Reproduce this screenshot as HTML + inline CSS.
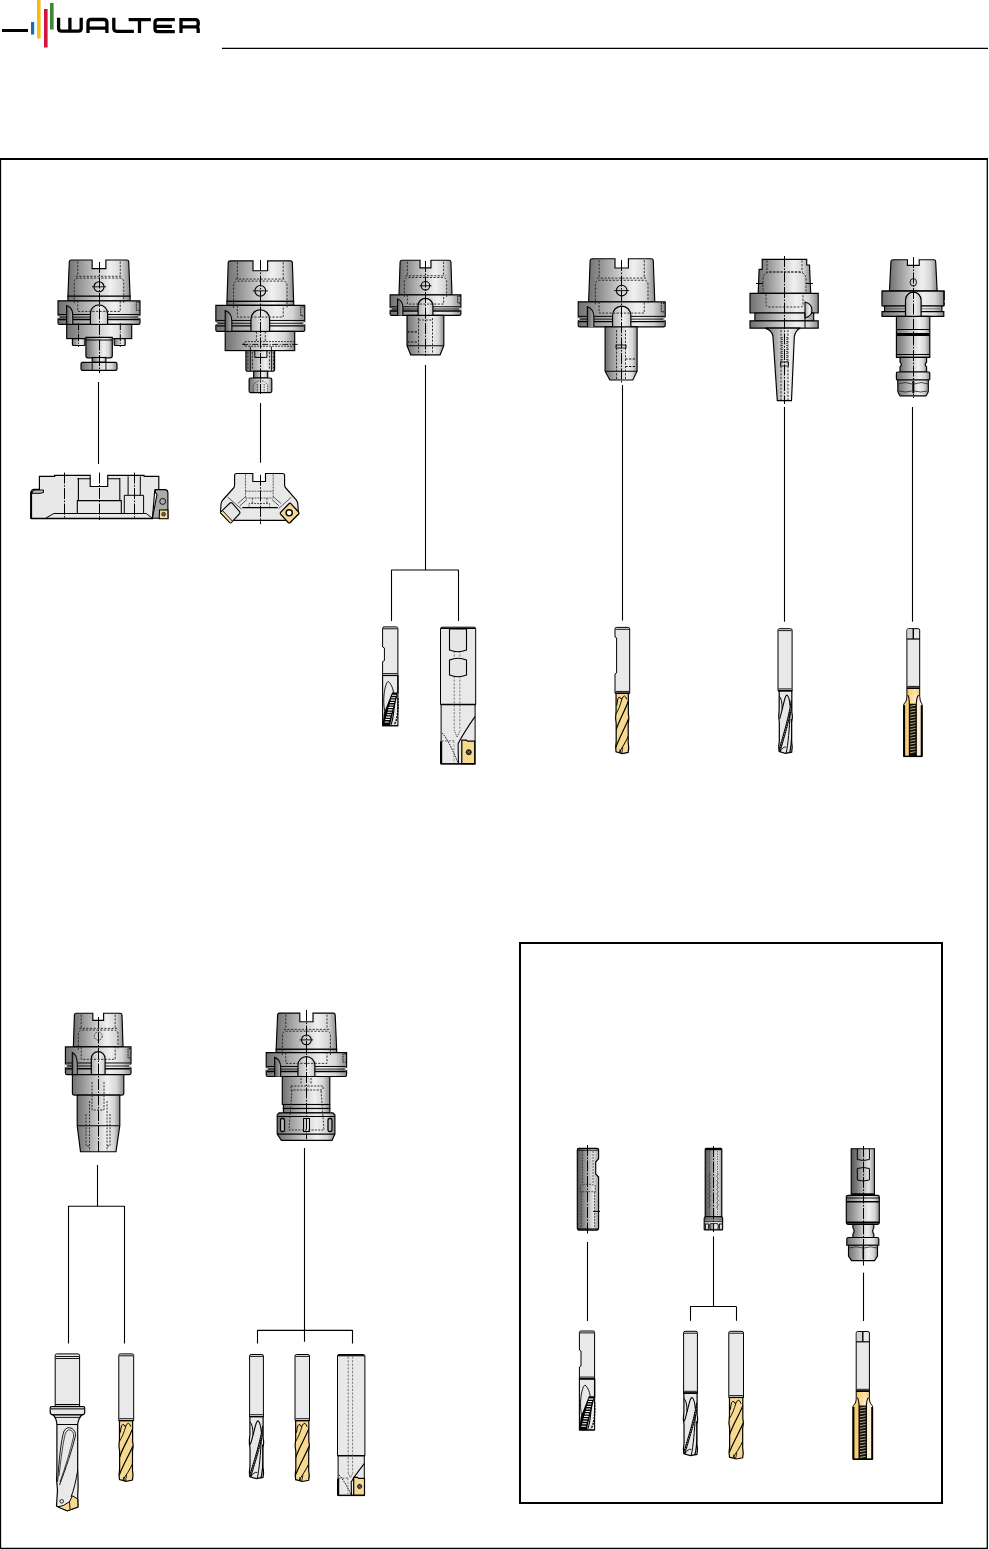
<!DOCTYPE html>
<html><head><meta charset="utf-8"><style>html,body{margin:0;padding:0;background:#fff;}svg{display:block;}</style></head><body><svg width="989" height="1549" viewBox="0 0 989 1549">
<defs>
<linearGradient id="met" x1="0" y1="0" x2="1" y2="0">
 <stop offset="0" stop-color="#717171"/>
 <stop offset="0.18" stop-color="#939393"/>
 <stop offset="0.45" stop-color="#c8c8c8"/>
 <stop offset="0.68" stop-color="#f0f0f0"/>
 <stop offset="0.86" stop-color="#d6d6d6"/>
 <stop offset="1" stop-color="#8a8a8a"/>
</linearGradient>
<linearGradient id="metl" x1="0" y1="0" x2="1" y2="0">
 <stop offset="0" stop-color="#b0b0b0"/>
 <stop offset="0.6" stop-color="#ececec"/>
 <stop offset="1" stop-color="#c8c8c8"/>
</linearGradient>
<linearGradient id="metd" x1="0" y1="0" x2="1" y2="0">
 <stop offset="0" stop-color="#606060"/>
 <stop offset="1" stop-color="#b0b0b0"/>
</linearGradient>
<linearGradient id="tapg" x1="0" y1="0" x2="1" y2="0">
 <stop offset="0" stop-color="#f5c663"/>
 <stop offset="0.3" stop-color="#fbd482"/>
 <stop offset="0.6" stop-color="#fde9c4"/>
 <stop offset="1" stop-color="#fff4de"/>
</linearGradient>
<linearGradient id="metk" x1="0" y1="0" x2="1" y2="0">
 <stop offset="0" stop-color="#555"/>
 <stop offset="0.25" stop-color="#7c7c7c"/>
 <stop offset="0.55" stop-color="#bdbdbd"/>
 <stop offset="0.75" stop-color="#e6e6e6"/>
 <stop offset="1" stop-color="#9a9a9a"/>
</linearGradient>
<linearGradient id="gold" x1="0" y1="0" x2="1" y2="0">
 <stop offset="0" stop-color="#f2c46a"/>
 <stop offset="0.6" stop-color="#fde3a6"/>
 <stop offset="1" stop-color="#f0cf85"/>
</linearGradient>
</defs>
<rect x="2" y="29" width="26" height="3" fill="#000"/>
<rect x="31" y="22" width="3.2" height="12.5" fill="#1a6db4"/>
<rect x="37" y="0" width="3.6" height="38.5" fill="#f7bb14"/>
<rect x="44" y="9" width="3.6" height="38.5" fill="#d2163f"/>
<rect x="50" y="3" width="3.6" height="26.5" fill="#3c8736"/>
<path d="M58.6,17.8 V28.2 Q58.6,31.2 61.6,31.2 H78.2 Q81.2,31.2 81.2,28.2 V17.8 M69.9,17.8 V31.2 M88,33 V22.6 Q88,19.5 91,19.5 H103.8 Q106.9,19.5 106.9,22.6 V33 M88,28.2 H106.9 M113.8,17.8 V28.3 Q113.8,31.3 116.8,31.3 H133.9 M128.6,19.6 H150.9 M139.5,19.6 V33 M174.8,19.6 H158 Q155,19.6 155,22.6 V28.7 Q155,31.7 158,31.7 H174.8 M155,26.3 H171.9 M181,33 V19.6 H195.3 Q198.2,19.6 198.2,22.5 V24 Q198.2,26.9 195.3,26.9 H181 M196,26.9 Q198.2,27.3 198.2,29.5 V33" fill="none" stroke="#000" stroke-width="3.3"/>
<line x1="222.00" y1="48.30" x2="988.00" y2="48.30" stroke="#000" stroke-width="1.2" />
<path d="M0.5,159 H987.3 V1548.3 H0.5 Z" fill="none" stroke="#000" stroke-width="1.3"/>
<rect x="0" y="158" width="988" height="2" fill="#000"/>
<rect x="520" y="943" width="422" height="560" fill="none" stroke="#000" stroke-width="2"/>
<path d="M71.10,260.00 H92.15 V268.60 H105.85 V260.00 H126.90 Q128.50,260.00 128.70,261.60 L130.10,296.20 H67.90 L69.30,261.60 Q69.50,260.00 71.10,260.00 Z" fill="url(#met)" stroke="#000" stroke-width="1.15" />
<rect x="67.90" y="296.20" width="62.20" height="4.60" rx="0" fill="url(#met)" stroke="#000" stroke-width="1.15" />
<path d="M58.00,300.80 H140.00 V322.90 Q140.00,324.40 138.50,324.40 H59.50 Q58.00,324.40 58.00,322.90 Z" fill="url(#met)" stroke="#000" stroke-width="1.15" />
<line x1="58.80" y1="314.49" x2="139.20" y2="314.49" stroke="#000" stroke-width="1.0" />
<line x1="60.00" y1="317.08" x2="138.00" y2="317.08" stroke="#000" stroke-width="0.85" />
<line x1="58.80" y1="319.44" x2="139.20" y2="319.44" stroke="#000" stroke-width="1.4" />
<path d="M57.20,315.19 L59.80,317.08 L57.20,318.64 Z" fill="#fff"/>
<path d="M140.80,315.19 L138.20,317.08 L140.80,318.64 Z" fill="#fff"/>
<path d="M139.40,302.22 H136.31 V310.24 H139.40" fill="none" stroke="#000" stroke-width="0.9" stroke-dasharray="1.6 1"/>
<path d="M66.61,324.40 V305.52 Q72.76,307.41 72.76,315.43 V324.40" fill="url(#metd)" stroke="#000" stroke-width="1.1" />
<path d="M90.39,324.40 V313.42 A8.61,8.61 0 0 1 107.61,313.42 V324.40" fill="url(#metl)" stroke="#000" stroke-width="1.2" />
<line x1="77.76" y1="261.50" x2="77.76" y2="276.29" stroke="#222" stroke-width="0.9" stroke-dasharray="2.2 1.4"/>
<line x1="120.24" y1="261.50" x2="120.24" y2="276.29" stroke="#222" stroke-width="0.9" stroke-dasharray="2.2 1.4"/>
<line x1="75.76" y1="276.29" x2="122.24" y2="276.29" stroke="#222" stroke-width="0.9" stroke-dasharray="2.2 1.4"/>
<path d="M74.22,303.16 V282.44 Q74.22,278.10 78.22,278.10 H119.78 Q123.78,278.10 123.78,282.44 V303.16" fill="none" stroke="#222" stroke-width="0.9" stroke-dasharray="2.2 1.4"/>
<path d="M77.76,300.80 V311.42 H120.24 V300.80" fill="none" stroke="#222" stroke-width="0.9" stroke-dasharray="2.2 1.4"/>
<circle cx="99.00" cy="286.79" r="5.02" fill="none" stroke="#000" stroke-width="1.1"/>
<line x1="91.98" y1="286.79" x2="106.02" y2="286.79" stroke="#000" stroke-width="0.9" />
<rect x="66.70" y="324.40" width="65.00" height="14.20" rx="0" fill="url(#met)" stroke="#000" stroke-width="1.15" />
<rect x="72.40" y="338.60" width="12.60" height="6.90" rx="1" fill="url(#met)" stroke="#000" stroke-width="1.15" />
<rect x="114.20" y="338.60" width="11.00" height="6.90" rx="1" fill="url(#met)" stroke="#000" stroke-width="1.15" />
<line x1="78.50" y1="323.20" x2="78.50" y2="346.90" stroke="#000" stroke-width="1.0" stroke-dasharray="7 1.5 1 1.5"/>
<line x1="120.30" y1="323.20" x2="120.30" y2="346.90" stroke="#000" stroke-width="1.0" stroke-dasharray="7 1.5 1 1.5"/>
<path d="M85.9,337.3 H112.3 V355.8 Q112.3,357.8 110.3,357.8 H87.9 Q85.9,357.8 85.9,355.8 Z" fill="url(#met)" stroke="#000" stroke-width="1.15" />
<line x1="85.90" y1="340.00" x2="112.30" y2="340.00" stroke="#000" stroke-width="1.0" />
<rect x="92.20" y="357.50" width="13.70" height="4.80" rx="0" fill="url(#met)" stroke="#000" stroke-width="1.15" />
<path d="M82.5,362.3 H115.5 Q117,362.3 117,364 V369 Q117,370.4 115.5,370.4 H82.5 Q81,370.4 81,369 V364 Q81,362.3 82.5,362.3 Z" fill="url(#met)" stroke="#000" stroke-width="1.15" />
<line x1="92.20" y1="362.30" x2="92.20" y2="370.40" stroke="#000" stroke-width="0.9" />
<line x1="105.90" y1="362.30" x2="105.90" y2="370.40" stroke="#000" stroke-width="0.9" />
<line x1="99.50" y1="262.00" x2="99.50" y2="373.00" stroke="#000" stroke-width="1.0" stroke-dasharray="11 1.5 1.5 1.5"/>
<line x1="98.50" y1="382.00" x2="98.50" y2="464.00" stroke="#000" stroke-width="1.1" />
<path d="M230.05,260.80 H253.00 V270.70 H267.60 V260.80 H290.55 Q292.15,260.80 292.35,262.40 L293.65,301.40 H226.95 L228.25,262.40 Q228.45,260.80 230.05,260.80 Z" fill="url(#met)" stroke="#000" stroke-width="1.15" />
<rect x="226.95" y="301.40" width="66.70" height="3.90" rx="0" fill="url(#met)" stroke="#000" stroke-width="1.15" />
<path d="M215.85,305.30 H304.75 V329.90 Q304.75,331.40 303.25,331.40 H217.35 Q215.85,331.40 215.85,329.90 Z" fill="url(#met)" stroke="#000" stroke-width="1.15" />
<line x1="216.65" y1="320.44" x2="303.95" y2="320.44" stroke="#000" stroke-width="1.0" />
<line x1="217.85" y1="323.31" x2="302.75" y2="323.31" stroke="#000" stroke-width="0.85" />
<line x1="216.65" y1="325.92" x2="303.95" y2="325.92" stroke="#000" stroke-width="1.4" />
<path d="M215.05,321.14 L217.65,323.31 L215.05,325.12 Z" fill="#fff"/>
<path d="M305.55,321.14 L302.95,323.31 L305.55,325.12 Z" fill="#fff"/>
<path d="M304.15,306.87 H300.75 V315.74 H304.15" fill="none" stroke="#000" stroke-width="0.9" stroke-dasharray="1.6 1"/>
<path d="M225.18,331.40 V310.52 Q231.85,312.61 231.85,321.48 V331.40" fill="url(#metd)" stroke="#000" stroke-width="1.1" />
<path d="M250.97,331.40 V319.07 A9.33,9.33 0 0 1 269.63,319.07 V331.40" fill="url(#metl)" stroke="#000" stroke-width="1.2" />
<line x1="237.37" y1="262.30" x2="237.37" y2="279.07" stroke="#222" stroke-width="0.9" stroke-dasharray="2.2 1.4"/>
<line x1="283.23" y1="262.30" x2="283.23" y2="279.07" stroke="#222" stroke-width="0.9" stroke-dasharray="2.2 1.4"/>
<line x1="235.37" y1="279.07" x2="285.23" y2="279.07" stroke="#222" stroke-width="0.9" stroke-dasharray="2.2 1.4"/>
<path d="M233.55,307.91 V285.97 Q233.55,281.10 237.55,281.10 H283.05 Q287.05,281.10 287.05,285.97 V307.91" fill="none" stroke="#222" stroke-width="0.9" stroke-dasharray="2.2 1.4"/>
<path d="M237.37,305.30 V317.05 H283.23 V305.30" fill="none" stroke="#222" stroke-width="0.9" stroke-dasharray="2.2 1.4"/>
<circle cx="260.30" cy="290.84" r="5.41" fill="none" stroke="#000" stroke-width="1.1"/>
<line x1="252.72" y1="290.84" x2="267.88" y2="290.84" stroke="#000" stroke-width="0.9" />
<rect x="225.20" y="331.40" width="69.50" height="19.20" rx="0" fill="url(#met)" stroke="#000" stroke-width="1.15" />
<line x1="256.40" y1="331.50" x2="256.40" y2="341.20" stroke="#222" stroke-width="0.9" stroke-dasharray="2.2 1.4"/>
<line x1="265.30" y1="331.50" x2="265.30" y2="341.20" stroke="#222" stroke-width="0.9" stroke-dasharray="2.2 1.4"/>
<path d="M245,341.6 H293.6 M245,346.2 H293.6 M243.5,344 L245,341.6 M243.5,344 L245,346.2" fill="none" stroke="#111" stroke-width="0.8" stroke-dasharray="2 1"/>
<line x1="242.20" y1="344.40" x2="297.70" y2="344.40" stroke="#000" stroke-width="0.9" stroke-dasharray="6 1.5 1 1.5"/>
<path d="M245.9,350.6 H274.6 V369.2 Q274.6,371.2 272.6,371.2 H247.9 Q245.9,371.2 245.9,369.2 Z" fill="url(#met)" stroke="#000" stroke-width="1.15" />
<line x1="247.90" y1="352.00" x2="247.90" y2="370.00" stroke="#222" stroke-width="0.9" stroke-dasharray="2.2 1.4"/>
<line x1="252.40" y1="352.00" x2="252.40" y2="370.00" stroke="#222" stroke-width="0.9" stroke-dasharray="2.2 1.4"/>
<line x1="269.40" y1="352.00" x2="269.40" y2="370.00" stroke="#222" stroke-width="0.9" stroke-dasharray="2.2 1.4"/>
<line x1="273.40" y1="352.00" x2="273.40" y2="370.00" stroke="#222" stroke-width="0.9" stroke-dasharray="2.2 1.4"/>
<line x1="250.30" y1="346.50" x2="250.30" y2="371.00" stroke="#000" stroke-width="0.9" />
<line x1="271.40" y1="346.50" x2="271.40" y2="371.00" stroke="#000" stroke-width="0.9" />
<path d="M254.8,350.8 V357.4 H266.9 V350.8" fill="none" stroke="#000" stroke-width="1.0"/>
<rect x="253.60" y="371.20" width="14.10" height="6.80" rx="0" fill="url(#met)" stroke="#000" stroke-width="1.15" />
<path d="M250.6,378 H270.3 Q271.8,378 271.8,379.5 V391.1 Q271.8,392.6 270.3,392.6 H250.6 Q249.1,392.6 249.1,391.1 V379.5 Q249.1,378 250.6,378 Z" fill="url(#met)" stroke="#000" stroke-width="1.15" />
<path d="M253.2,392 V385 Q260.5,376 267.8,385 V392 M257.3,384 V392 M264.2,384 V392" fill="none" stroke="#222" stroke-width="0.8" stroke-dasharray="1.5 1"/>
<line x1="260.50" y1="260.00" x2="260.50" y2="394.00" stroke="#000" stroke-width="1.0" stroke-dasharray="11 1.5 1.5 1.5"/>
<line x1="260.50" y1="403.00" x2="260.50" y2="462.70" stroke="#000" stroke-width="1.1" />
<path d="M401.90,260.20 H420.05 V267.80 H430.95 V260.20 H449.10 Q450.70,260.20 450.90,261.80 L452.00,294.80 H399.00 L400.10,261.80 Q400.30,260.20 401.90,260.20 Z" fill="url(#met)" stroke="#000" stroke-width="1.15" />
<path d="M390.10,294.80 H460.90 V313.90 Q460.90,315.40 459.40,315.40 H391.60 Q390.10,315.40 390.10,313.90 Z" fill="url(#met)" stroke="#000" stroke-width="1.15" />
<line x1="390.90" y1="306.75" x2="460.10" y2="306.75" stroke="#000" stroke-width="1.0" />
<line x1="392.10" y1="309.01" x2="458.90" y2="309.01" stroke="#000" stroke-width="0.85" />
<line x1="390.90" y1="311.07" x2="460.10" y2="311.07" stroke="#000" stroke-width="1.4" />
<path d="M389.30,307.45 L391.90,309.01 L389.30,310.27 Z" fill="#fff"/>
<path d="M461.70,307.45 L459.10,309.01 L461.70,310.27 Z" fill="#fff"/>
<path d="M460.30,296.04 H457.71 V303.04 H460.30" fill="none" stroke="#000" stroke-width="0.9" stroke-dasharray="1.6 1"/>
<path d="M397.53,315.40 V298.92 Q402.84,300.57 402.84,307.57 V315.40" fill="url(#metd)" stroke="#000" stroke-width="1.1" />
<path d="M418.07,315.40 V305.74 A7.43,7.43 0 0 1 432.93,305.74 V315.40" fill="url(#metl)" stroke="#000" stroke-width="1.2" />
<line x1="407.36" y1="261.70" x2="407.36" y2="275.77" stroke="#222" stroke-width="0.9" stroke-dasharray="2.2 1.4"/>
<line x1="443.64" y1="261.70" x2="443.64" y2="275.77" stroke="#222" stroke-width="0.9" stroke-dasharray="2.2 1.4"/>
<line x1="405.36" y1="275.77" x2="445.64" y2="275.77" stroke="#222" stroke-width="0.9" stroke-dasharray="2.2 1.4"/>
<path d="M404.33,296.86 V281.65 Q404.33,277.50 408.33,277.50 H442.67 Q446.67,277.50 446.67,281.65 V296.86" fill="none" stroke="#222" stroke-width="0.9" stroke-dasharray="2.2 1.4"/>
<path d="M407.36,294.80 V304.07 H443.64 V294.80" fill="none" stroke="#222" stroke-width="0.9" stroke-dasharray="2.2 1.4"/>
<circle cx="425.50" cy="285.80" r="4.28" fill="none" stroke="#000" stroke-width="1.1"/>
<line x1="419.50" y1="285.80" x2="431.50" y2="285.80" stroke="#000" stroke-width="0.9" />
<path d="M407,315.4 H443.8 V345.7 L440.1,354.8 H410.7 L407,345.7 Z" fill="url(#met)" stroke="#000" stroke-width="1.15" />
<line x1="407.00" y1="345.70" x2="443.80" y2="345.70" stroke="#000" stroke-width="1.1" />
<line x1="418.50" y1="318.00" x2="418.50" y2="354.00" stroke="#222" stroke-width="0.9" stroke-dasharray="2.2 1.4"/>
<line x1="432.50" y1="318.00" x2="432.50" y2="354.00" stroke="#222" stroke-width="0.9" stroke-dasharray="2.2 1.4"/>
<line x1="407.50" y1="331.80" x2="418.50" y2="331.80" stroke="#111" stroke-width="1.2" stroke-dasharray="2.2 1.4"/>
<line x1="407.50" y1="342.00" x2="418.50" y2="342.00" stroke="#111" stroke-width="1.2" stroke-dasharray="2.2 1.4"/>
<line x1="418.50" y1="320.00" x2="432.50" y2="320.00" stroke="#222" stroke-width="0.9" stroke-dasharray="2.2 1.4"/>
<line x1="425.50" y1="261.00" x2="425.50" y2="356.00" stroke="#000" stroke-width="1.0" stroke-dasharray="11 1.5 1.5 1.5"/>
<line x1="425.50" y1="365.00" x2="425.50" y2="570.00" stroke="#000" stroke-width="1.1" />
<path d="M591.95,258.70 H615.00 V268.00 H628.40 V258.70 H651.45 Q653.05,258.70 653.25,260.30 L654.80,301.80 H588.60 L590.15,260.30 Q590.35,258.70 591.95,258.70 Z" fill="url(#met)" stroke="#000" stroke-width="1.15" />
<path d="M578.20,301.80 H665.20 V325.40 Q665.20,326.90 663.70,326.90 H579.70 Q578.20,326.90 578.20,325.40 Z" fill="url(#met)" stroke="#000" stroke-width="1.15" />
<line x1="579.00" y1="316.36" x2="664.40" y2="316.36" stroke="#000" stroke-width="1.0" />
<line x1="580.20" y1="319.12" x2="663.20" y2="319.12" stroke="#000" stroke-width="0.85" />
<line x1="579.00" y1="321.63" x2="664.40" y2="321.63" stroke="#000" stroke-width="1.4" />
<path d="M577.40,317.06 L580.00,319.12 L577.40,320.83 Z" fill="#fff"/>
<path d="M666.00,317.06 L663.40,319.12 L666.00,320.83 Z" fill="#fff"/>
<path d="M664.60,303.31 H661.29 V311.84 H664.60" fill="none" stroke="#000" stroke-width="0.9" stroke-dasharray="1.6 1"/>
<path d="M587.34,326.90 V306.82 Q593.86,308.83 593.86,317.36 V326.90" fill="url(#metd)" stroke="#000" stroke-width="1.1" />
<path d="M612.57,326.90 V315.20 A9.13,9.13 0 0 1 630.84,315.20 V326.90" fill="url(#metl)" stroke="#000" stroke-width="1.2" />
<line x1="599.13" y1="260.20" x2="599.13" y2="278.10" stroke="#222" stroke-width="0.9" stroke-dasharray="2.2 1.4"/>
<line x1="644.27" y1="260.20" x2="644.27" y2="278.10" stroke="#222" stroke-width="0.9" stroke-dasharray="2.2 1.4"/>
<line x1="597.13" y1="278.10" x2="646.27" y2="278.10" stroke="#222" stroke-width="0.9" stroke-dasharray="2.2 1.4"/>
<path d="M595.37,304.31 V285.42 Q595.37,280.25 599.37,280.25 H644.03 Q648.03,280.25 648.03,285.42 V304.31" fill="none" stroke="#222" stroke-width="0.9" stroke-dasharray="2.2 1.4"/>
<path d="M599.13,301.80 V313.09 H644.27 V301.80" fill="none" stroke="#222" stroke-width="0.9" stroke-dasharray="2.2 1.4"/>
<circle cx="621.70" cy="290.59" r="5.33" fill="none" stroke="#000" stroke-width="1.1"/>
<line x1="614.24" y1="290.59" x2="629.16" y2="290.59" stroke="#000" stroke-width="0.9" />
<path d="M605.1,326.9 H637.1 V371.2 L632.8,380 H609.8 L605.1,371.2 Z" fill="url(#met)" stroke="#000" stroke-width="1.15" />
<line x1="605.10" y1="371.20" x2="637.10" y2="371.20" stroke="#000" stroke-width="1.1" />
<line x1="616.50" y1="330.00" x2="616.50" y2="380.00" stroke="#222" stroke-width="0.9" stroke-dasharray="2.2 1.4"/>
<line x1="625.50" y1="330.00" x2="625.50" y2="380.00" stroke="#222" stroke-width="0.9" stroke-dasharray="2.2 1.4"/>
<rect x="616.00" y="345.00" width="10.00" height="3.00" rx="0" fill="none" stroke="#000" stroke-width="0.9" />
<line x1="625.50" y1="359.00" x2="636.00" y2="359.00" stroke="#111" stroke-width="1.2" stroke-dasharray="2.2 1.4"/>
<line x1="625.50" y1="366.50" x2="636.00" y2="366.50" stroke="#111" stroke-width="1.2" stroke-dasharray="2.2 1.4"/>
<line x1="621.50" y1="260.00" x2="621.50" y2="383.00" stroke="#000" stroke-width="1.0" stroke-dasharray="11 1.5 1.5 1.5"/>
<line x1="622.50" y1="385.00" x2="622.50" y2="620.60" stroke="#000" stroke-width="1.1" />
<path d="M762.2,259.3 H806.7 V265 H809.5 L810.7,293.3 H758.2 L759.1,269.3 H762.2 Z" fill="url(#met)" stroke="#000" stroke-width="1.15" />
<path d="M767,260.5 V270 M802,260.5 V270 M766,272 H803" fill="none" stroke="#222" stroke-width="0.9" stroke-dasharray="2.2 1.4"/>
<path d="M763,312 V280 Q763,272 771,272 H798 Q806,272 806,280 V312" fill="none" stroke="#222" stroke-width="0.9" stroke-dasharray="2.2 1.4"/>
<line x1="756.00" y1="283.50" x2="763.00" y2="283.50" stroke="#000" stroke-width="1" />
<line x1="806.00" y1="283.50" x2="813.00" y2="283.50" stroke="#000" stroke-width="1" />
<path d="M750,293.3 H818.2 V313 H750 Z" fill="url(#met)" stroke="#000" stroke-width="1.15" />
<path d="M766,294 V305 Q766,307 769,307 H800 Q803,307 803,305 V294" fill="none" stroke="#222" stroke-width="0.9" stroke-dasharray="2.2 1.4"/>
<rect x="754.90" y="313.00" width="58.80" height="7.80" rx="0" fill="url(#met)" stroke="#000" stroke-width="1.15" />
<path d="M750,320.8 H818.2 V328.1 H750 Z" fill="url(#met)" stroke="#000" stroke-width="1.15" />
<path d="M805,302 Q812,304 812,310 Q812,316 805,318 Z" fill="url(#metl)" stroke="#000" stroke-width="1.1" />
<line x1="805.00" y1="313.00" x2="805.00" y2="328.00" stroke="#000" stroke-width="1.0" />
<path d="M765.2,328.1 H800.4 Q795,331 794.3,337 L791.5,400.6 H777.3 L773,337 Q773,331 765.2,328.1 Z" fill="url(#met)" stroke="#000" stroke-width="1.15" />
<line x1="781.00" y1="330.00" x2="781.00" y2="400.00" stroke="#222" stroke-width="0.9" stroke-dasharray="2.2 1.4"/>
<line x1="788.00" y1="330.00" x2="788.00" y2="400.00" stroke="#222" stroke-width="0.9" stroke-dasharray="2.2 1.4"/>
<path d="M782,337 V362 M787,337 V362" stroke="#000" stroke-width="1.1" stroke-dasharray="1 1"/>
<rect x="780.50" y="362.00" width="8.00" height="4.00" rx="0" fill="none" stroke="#000" stroke-width="0.8" />
<line x1="784.50" y1="256.00" x2="784.50" y2="404.00" stroke="#000" stroke-width="1.0" stroke-dasharray="11 1.5 1.5 1.5"/>
<line x1="784.50" y1="407.00" x2="784.50" y2="621.70" stroke="#000" stroke-width="1.1" />
<path d="M892.75,259.70 H907.40 V265.30 H919.20 V259.70 H933.85 Q935.45,259.70 935.65,261.30 L937.15,291.10 H889.45 L890.95,261.30 Q891.15,259.70 892.75,259.70 Z" fill="url(#met)" stroke="#000" stroke-width="1.15" />
<path d="M882.40,291.10 H944.20 V304.50 Q944.20,306.00 942.70,306.00 H883.90 Q882.40,306.00 882.40,304.50 Z" fill="url(#met)" stroke="#000" stroke-width="1.15" />
<line x1="883.20" y1="299.74" x2="943.40" y2="299.74" stroke="#000" stroke-width="1.0" />
<line x1="884.40" y1="301.38" x2="942.20" y2="301.38" stroke="#000" stroke-width="0.85" />
<line x1="883.20" y1="302.87" x2="943.40" y2="302.87" stroke="#000" stroke-width="1.4" />
<path d="M881.60,300.44 L884.20,301.38 L881.60,302.07 Z" fill="#fff"/>
<path d="M945.00,300.44 L942.40,301.38 L945.00,302.07 Z" fill="#fff"/>
<ellipse cx="913.30" cy="282.31" rx="3.20" ry="3.77" fill="none" stroke="#000" stroke-width="0.9"/>
<path d="M882,291.1 H943.8 V306 H882 Z" fill="url(#met)" stroke="#000" stroke-width="1.15" />
<rect x="884.60" y="306.00" width="57.30" height="5.60" rx="0" fill="url(#met)" stroke="#000" stroke-width="1.15" />
<path d="M882,311.6 H943.8 V316.4 H882 Z" fill="url(#met)" stroke="#000" stroke-width="1.15" />
<line x1="886.00" y1="308.80" x2="940.00" y2="308.80" stroke="#444" stroke-width="0.7" />
<path d="M905.5,316.4 V300 A7.8,7.8 0 0 1 921.1,300 V316.4" fill="url(#metl)" stroke="#000" stroke-width="1.2" />
<path d="M896.4,316.4 H929.8 V357.4 H896.4 Z" fill="url(#met)" stroke="#000" stroke-width="1.15" />
<rect x="896.4" y="333" width="33.4" height="3" fill="#000"/>
<line x1="896.40" y1="329.50" x2="929.80" y2="329.50" stroke="#000" stroke-width="1" />
<line x1="896.40" y1="354.50" x2="929.80" y2="354.50" stroke="#000" stroke-width="1" />
<path d="M900,357.4 H926.6 V362 Q924,364.5 926.6,367 V372 H900 V367 Q902.6,364.5 900,362 Z" fill="url(#met)" stroke="#000" stroke-width="1.15" />
<rect x="896.40" y="372.00" width="33.40" height="8.00" rx="1" fill="url(#met)" stroke="#000" stroke-width="1.15" />
<path d="M897.8,380 H928.3 V391 Q928.3,393 926,395.8 H900 Q897.8,393 897.8,391 Z" fill="url(#met)" stroke="#000" stroke-width="1.15" />
<line x1="913.30" y1="381.00" x2="913.30" y2="393.00" stroke="#000" stroke-width="2" />
<path d="M898,384 Q905,381 912,384 M914,384 Q921,381 928,384 M899,391 Q905,393 912,391 M914,391 Q921,393 927,391" fill="none" stroke="#222" stroke-width="0.8"/>
<line x1="913.50" y1="257.00" x2="913.50" y2="398.00" stroke="#000" stroke-width="1.0" stroke-dasharray="11 1.5 1.5 1.5"/>
<line x1="912.50" y1="407.00" x2="912.50" y2="621.70" stroke="#000" stroke-width="1.1" />
<path d="M39.4,476.4 H54.6 V475.3 H90.2 V486.5 H107.7 V475.3 H144.1 V476.4 H158.8 V490 H154.8 L152.4,518.5 H31.1 V492 Q31.5,489.5 34,489.3 H39.4 Z" fill="#e8e8e8" stroke="#000" stroke-width="1.15" />
<path d="M32,493.5 Q32,490 35,490 H43.5 V492.5 L40,493.3 H32 Z" fill="#c0c0c0" stroke="#000" stroke-width="1.0" />
<line x1="31.10" y1="491.50" x2="31.10" y2="518.80" stroke="#000" stroke-width="2.0" />
<path d="M77.3,513.5 V500.6 H121.3 V513.5 M78.4,478 V500.6 M119.8,478 V500.6 M77.3,478.8 H90.2 M107.7,478.8 H119.8" fill="none" stroke="#000" stroke-width="1.1"/>
<path d="M124.3,513.5 V495.3 H143.6 V513.5 M128.1,476.4 V495.3 M140.3,476.4 V495.3" fill="none" stroke="#000" stroke-width="1.0"/>
<line x1="53.80" y1="513.50" x2="146.30" y2="513.50" stroke="#000" stroke-width="1.1" />
<line x1="46.00" y1="518.00" x2="53.80" y2="513.50" stroke="#000" stroke-width="1.0" />
<line x1="146.30" y1="513.50" x2="152.00" y2="518.00" stroke="#000" stroke-width="1.0" />
<line x1="31.00" y1="518.50" x2="153.00" y2="518.50" stroke="#000" stroke-width="1.3" />
<line x1="64.50" y1="472.60" x2="64.50" y2="519.00" stroke="#000" stroke-width="1.0" stroke-dasharray="11 1.5 1.5 1.5"/>
<line x1="99.50" y1="472.60" x2="99.50" y2="520.00" stroke="#000" stroke-width="1.0" stroke-dasharray="11 1.5 1.5 1.5"/>
<line x1="134.50" y1="472.60" x2="134.50" y2="519.00" stroke="#000" stroke-width="1.0" stroke-dasharray="11 1.5 1.5 1.5"/>
<path d="M155.4,489.6 H165.5 Q167.9,490 167.9,493 V518.3 H152.4 L157,494.6 L155.4,492.3 Z" fill="#ababab" stroke="#000" stroke-width="1.1" />
<circle cx="162.7" cy="501.4" r="3" fill="none" stroke="#000" stroke-width="0.9"/>
<path d="M159.5,510 L167.9,509.7 L168,518.8 L159.2,518.6 Z" fill="#f7d990" stroke="#000" stroke-width="1.1" />
<circle cx="163.6" cy="514.2" r="1.9" fill="#666" stroke="#000" stroke-width="0.6"/>
<path d="M236.6,473.5 H252.8 V481.5 H265.5 V473.5 H282.6 Q284.6,473.5 284.6,475.5 V484.4 Q284.6,486.8 285.8,488 L296.2,499.8 Q297.6,501.5 297.8,504 L298.3,511.7 L285,520.3 H234.6 L220.5,512.6 L221,504 Q221.4,501.5 222.8,500 L233.6,488 Q234.6,486.8 234.6,484.4 V475.5 Q234.6,473.5 236.6,473.5 Z" fill="#e8e8e8" stroke="#000" stroke-width="1.15" />
<path d="M245.5,474.5 V498 M273.2,474.5 V498 M245.5,491.2 H273.2 M245.5,498 H273.2 M252.3,498 V503.5 M266.9,498 V503.5 M249.1,507.6 V503.5 H269.6 V507.6" fill="none" stroke="#333" stroke-width="0.8" stroke-dasharray="2 1"/>
<line x1="242.30" y1="507.60" x2="277.80" y2="507.60" stroke="#000" stroke-width="1.1" />
<path d="M227.7,497.1 L241.4,509 M237.8,503.5 L245.5,496.7 M239.6,506 L247,499.5 M291.4,497.1 L278.7,508.5 M281,503.5 L273.2,496.7 M279.2,506 L272,499.5" fill="none" stroke="#333" stroke-width="0.8"/>
<path d="M230,503 Q231,502.2 232,503 L239.6,511.6 Q240.3,512.6 239.6,513.6 L231.5,522.3 Q230.5,523.2 229.5,522.3 L221.2,513.6 Q220.5,512.6 221.2,511.6 Z" fill="#e6e6e6" stroke="#000" stroke-width="1.1" />
<path d="M220.5,512.6 L230.5,523.2 L232.5,521.2 L222.5,510.6 Z" fill="#f7d990" stroke="#000" stroke-width="0.9" />
<path d="M289.2,503.5 Q290,502.9 290.8,503.6 L298.6,512 Q299.3,513 298.6,514 L290.2,522.4 Q289.2,523.2 288.2,522.4 L280.6,514.2 Q280,513.3 280.6,512.4 Z" fill="#f7d990" stroke="#000" stroke-width="1.3" />
<circle cx="289.2" cy="512.8" r="3.1" fill="#fff" stroke="#000" stroke-width="1.4"/>
<line x1="260.50" y1="474.80" x2="260.50" y2="524.00" stroke="#000" stroke-width="1.0" stroke-dasharray="11 1.5 1.5 1.5"/>
<line x1="391.20" y1="570.00" x2="458.70" y2="570.00" stroke="#000" stroke-width="1.15" />
<line x1="391.50" y1="570.00" x2="391.50" y2="621.00" stroke="#000" stroke-width="1.1" />
<line x1="458.50" y1="570.00" x2="458.50" y2="621.00" stroke="#000" stroke-width="1.1" />
<path d="M384.10,626.90 H396.40 Q397.90,626.90 397.90,628.40 V675.50 H382.60 V661.60 L384.40,660.60 V648.00 L382.60,647.00 V628.40 Q382.60,626.90 384.10,626.90 Z" fill="#e9e9e9" stroke="#000" stroke-width="1.0" />
<line x1="383.10" y1="628.80" x2="397.40" y2="628.80" stroke="#000" stroke-width="0.9" />
<line x1="383.10" y1="673.60" x2="397.40" y2="673.60" stroke="#000" stroke-width="0.9" />
<line x1="382.60" y1="675.50" x2="397.90" y2="675.50" stroke="#000" stroke-width="1.1" />
<path d="M382.60,675.50 H397.90 V725.70 H382.60 Z" fill="#e9e9e9" stroke="#000" stroke-width="1.1" />
<line x1="382.60" y1="675.50" x2="397.90" y2="675.50" stroke="#000" stroke-width="1.2" />
<line x1="397.90" y1="675.50" x2="397.90" y2="693.57" stroke="#000" stroke-width="1.3" />
<path d="M384.90,711.64 C381.84,698.09 385.66,681.52 388.26,681.52 C391.01,683.03 394.07,690.56 393.31,694.07" fill="none" stroke="#000" stroke-width="0.9"/>
<path d="M392.09,692.57 H397.59 L392.09,716.66 L390.25,724.19 L390.25,725.70 H382.60 L383.82,713.15 Z" fill="#000"/>
<rect x="391.91" y="694.74" width="4.59" height="1.1" rx="0.5" fill="#fff"/>
<rect x="391.24" y="697.16" width="4.59" height="1.1" rx="0.5" fill="#fff"/>
<rect x="390.58" y="699.59" width="4.59" height="1.1" rx="0.5" fill="#fff"/>
<rect x="389.92" y="702.02" width="4.59" height="1.1" rx="0.5" fill="#fff"/>
<rect x="389.26" y="704.44" width="4.59" height="1.1" rx="0.5" fill="#fff"/>
<rect x="388.59" y="706.87" width="4.59" height="1.1" rx="0.5" fill="#fff"/>
<rect x="387.93" y="709.30" width="4.59" height="1.1" rx="0.5" fill="#fff"/>
<rect x="387.27" y="711.72" width="4.59" height="1.1" rx="0.5" fill="#fff"/>
<rect x="386.60" y="714.15" width="4.59" height="1.1" rx="0.5" fill="#fff"/>
<rect x="385.94" y="716.57" width="4.59" height="1.1" rx="0.5" fill="#fff"/>
<rect x="385.28" y="719.00" width="4.59" height="1.1" rx="0.5" fill="#fff"/>
<rect x="384.61" y="721.43" width="4.59" height="1.1" rx="0.5" fill="#fff"/>
<path d="M397.13,695.58 C393.31,700.60 394.84,715.66 391.01,724.70" fill="none" stroke="#000" stroke-width="1.1"/>
<path d="M397.90,698.09 C398.66,710.64 397.13,720.68 394.07,724.70" fill="none" stroke="#000" stroke-width="1.4" stroke-dasharray="2 1"/>
<line x1="382.60" y1="725.70" x2="397.90" y2="725.70" stroke="#000" stroke-width="1.1" />
<path d="M442.00,627.20 H474.20 Q475.70,627.20 475.70,628.70 V704.50 H440.50 V628.70 Q440.50,627.20 442.00,627.20 Z" fill="#e9e9e9" stroke="#000" stroke-width="1.0" />
<line x1="441.00" y1="628.40" x2="475.20" y2="628.40" stroke="#000" stroke-width="1.2" />
<path d="M441.10,704.50 H475.10 V763.90 H441.10 Z" fill="#e9e9e9" stroke="#000" stroke-width="1.0" />
<line x1="440.50" y1="704.50" x2="475.70" y2="704.50" stroke="#000" stroke-width="1.3" />
<line x1="454.23" y1="629.20" x2="454.23" y2="730.04" stroke="#555" stroke-width="0.8" stroke-dasharray="2.2 1.4"/>
<line x1="459.86" y1="629.20" x2="459.86" y2="730.04" stroke="#666" stroke-width="0.8" stroke-dasharray="2.2 1.4"/>
<path d="M454.23,730.04 L457.04,737.17 L460.36,730.04" fill="none" stroke="#333" stroke-width="0.8" stroke-dasharray="1.2 0.8"/>
<path d="M442.26,733.01 C449.30,741.33 454.58,754.99 458.45,763.90" fill="none" stroke="#000" stroke-width="0.9" stroke-dasharray="1.6 1"/>
<path d="M475.10,716.38 C466.90,728.26 459.86,740.14 458.10,743.70 L458.45,763.90" fill="none" stroke="#000" stroke-width="1.1"/>
<line x1="441.50" y1="741.10" x2="453.88" y2="740.80" stroke="#444" stroke-width="0.8" stroke-dasharray="2.2 1.4"/>
<line x1="453.88" y1="740.80" x2="453.88" y2="762.90" stroke="#777" stroke-width="0.8" stroke-dasharray="2.2 1.4"/>
<line x1="441.10" y1="741.30" x2="441.10" y2="763.90" stroke="#000" stroke-width="2.2" />
<line x1="440.50" y1="763.90" x2="475.70" y2="763.90" stroke="#000" stroke-width="1.4" />
<path d="M461.80,740.20 H466.31 L467.61,741.20 H474.70 V763.60 H461.80 Z" fill="#f7d990" stroke="#000" stroke-width="1.2" />
<circle cx="468.75" cy="752.20" r="2.58" fill="#222" stroke="#000" stroke-width="0.6"/>
<path d="M467.20,750.65 L470.30,753.75 M470.30,750.65 L467.20,753.75" stroke="#bbb" stroke-width="0.6"/>
<path d="M449.5,629 H466.5 V650 Q458,653.5 449.5,650 Z" fill="#e6e6e6" stroke="#000" stroke-width="1.1" />
<path d="M449.5,660 Q458,656.5 466.5,660 V675 Q458,678.5 449.5,675 Z" fill="#e6e6e6" stroke="#000" stroke-width="1.1" />
<path d="M616.50,627.40 H628.20 Q629.70,627.40 629.70,628.90 V693.30 H615.00 V674.00 L616.60,673.00 V637.90 L615.00,636.90 V628.90 Q615.00,627.40 616.50,627.40 Z" fill="#e9e9e9" stroke="#000" stroke-width="1.0" />
<line x1="615.50" y1="629.30" x2="629.20" y2="629.30" stroke="#000" stroke-width="0.9" />
<line x1="615.50" y1="691.40" x2="629.20" y2="691.40" stroke="#000" stroke-width="0.9" />
<line x1="615.00" y1="693.30" x2="629.70" y2="693.30" stroke="#000" stroke-width="1.1" />
<clipPath id="fc1"><path d="M616.06,693.30 H628.34 V714.40 Q629.37,717.42 628.22,723.45 V742.75 Q629.24,747.57 628.22,752.39 L622.20,753.60 L616.06,751.79 Q615.16,747.57 616.18,741.54 V723.45 Q615.03,718.63 616.06,711.39 Z"/></clipPath>
<path d="M616.06,693.30 H628.34 V714.40 Q629.37,717.42 628.22,723.45 V742.75 Q629.24,747.57 628.22,752.39 L622.20,753.60 L616.06,751.79 Q615.16,747.57 616.18,741.54 V723.45 Q615.03,718.63 616.06,711.39 Z" fill="#f7d990"/>
<g clip-path="url(#fc1)" fill="none" stroke="#000">
<path d="M616.82,705.36 Q617.72,695.11 620.28,697.52 Q621.56,700.54 622.20,698.12 Q624.76,693.30 626.68,699.33" stroke-width="1.0"/>
<path d="M628.60,700.54 C624.76,711.39 619.64,718.63 615.80,730.69" stroke-width="1.2"/>
<path d="M622.20,698.12 C620.28,705.36 618.36,710.18 615.80,714.40" stroke-width="0.9"/>
<path d="M628.60,718.63 C624.76,728.27 619.64,736.72 615.80,747.57" stroke-width="1.2"/>
<path d="M628.60,735.51 C625.40,742.75 622.20,747.57 618.36,753.60" stroke-width="1.0"/>
<path d="M622.84,747.57 L621.56,753.60 M619.64,749.38 L621.18,753.60" stroke-width="0.8"/>
</g>
<path d="M616.06,693.30 H628.34 V714.40 Q629.37,717.42 628.22,723.45 V742.75 Q629.24,747.57 628.22,752.39 L622.20,753.60 L616.06,751.79 Q615.16,747.57 616.18,741.54 V723.45 Q615.03,718.63 616.06,711.39 Z" fill="none" stroke="#000" stroke-width="1.2"/>
<line x1="615.80" y1="693.30" x2="628.60" y2="693.30" stroke="#000" stroke-width="1.2" />
<path d="M779.50,628.70 H790.60 Q792.10,628.70 792.10,630.20 V690.80 H778.00 V630.20 Q778.00,628.70 779.50,628.70 Z" fill="#e9e9e9" stroke="#000" stroke-width="1.0" />
<line x1="778.50" y1="630.60" x2="791.60" y2="630.60" stroke="#000" stroke-width="0.9" />
<line x1="778.50" y1="688.90" x2="791.60" y2="688.90" stroke="#000" stroke-width="0.9" />
<line x1="778.00" y1="690.80" x2="792.10" y2="690.80" stroke="#000" stroke-width="1.1" />
<clipPath id="fc2"><path d="M779.16,690.80 H791.84 V712.71 Q792.89,715.84 791.70,722.10 V742.13 Q792.76,747.14 791.70,752.15 L785.50,753.40 L779.16,751.52 Q778.24,747.14 779.30,740.88 V722.10 Q778.11,717.09 779.16,709.58 Z"/></clipPath>
<path d="M779.16,690.80 H791.84 V712.71 Q792.89,715.84 791.70,722.10 V742.13 Q792.76,747.14 791.70,752.15 L785.50,753.40 L779.16,751.52 Q778.24,747.14 779.30,740.88 V722.10 Q778.11,717.09 779.16,709.58 Z" fill="#e9e9e9"/>
<g clip-path="url(#fc2)" fill="none" stroke="#000">
<path d="M778.90,695.81 Q782.20,698.31 782.20,709.58" stroke-width="1.0"/>
<path d="M779.56,718.97 C782.86,709.58 784.84,693.93 787.08,695.18 Q789.46,697.06 790.12,706.45" stroke-width="1.1"/>
<path d="M792.10,700.19 C788.80,722.10 782.86,737.75 778.90,753.40" stroke-width="2.4"/>
<path d="M792.10,700.19 C788.80,722.10 782.86,737.75 778.90,753.40" stroke="#ddd" stroke-width="0.7" stroke-dasharray="1.4 1.2"/>
<path d="M790.12,712.71 C789.46,728.36 788.14,744.01 786.16,753.40" stroke-width="1.0"/>
<path d="M791.44,718.97 C792.10,734.62 791.44,747.14 789.46,753.40" stroke-width="1.2"/>
<path d="M779.56,752.15 Q783.52,745.89 786.16,747.14" stroke-width="0.9"/>
</g>
<path d="M779.16,690.80 H791.84 V712.71 Q792.89,715.84 791.70,722.10 V742.13 Q792.76,747.14 791.70,752.15 L785.50,753.40 L779.16,751.52 Q778.24,747.14 779.30,740.88 V722.10 Q778.11,717.09 779.16,709.58 Z" fill="none" stroke="#000" stroke-width="1.2"/>
<line x1="778.90" y1="690.80" x2="792.10" y2="690.80" stroke="#000" stroke-width="1.2" />
<path d="M908.40,628.70 H918.20 Q919.70,628.70 919.70,630.20 V688.30 H906.90 V630.20 Q906.90,628.70 908.40,628.70 Z" fill="#e9e9e9" stroke="#000" stroke-width="1.0" />
<line x1="907.40" y1="686.40" x2="919.20" y2="686.40" stroke="#000" stroke-width="0.9" />
<line x1="906.90" y1="688.30" x2="919.70" y2="688.30" stroke="#000" stroke-width="1.1" />
<rect x="907.50" y="629.30" width="5.40" height="9.30" fill="#d4d4d4"/>
<line x1="906.90" y1="639.00" x2="919.70" y2="639.00" stroke="#000" stroke-width="1.2" />
<line x1="913.30" y1="628.70" x2="913.30" y2="639.00" stroke="#000" stroke-width="1.4" />
<path d="M906.90,688.30 H919.70 V696.23 Q920.00,702.20 921.70,703.50 Q922.20,704.20 922.20,706.70 V756.40 H903.60 V706.70 Q903.60,704.20 904.10,703.50 Q906.60,702.20 906.90,696.23 Z" fill="url(#tapg)"/>
<path d="M906.90,688.30 H919.70 V695.23 H906.90 Z" fill="url(#gold)"/>
<rect x="909.37" y="703.70" width="6.88" height="52.70" fill="#14110a"/>
<path d="M910.17,706.30 L915.65,705.30" stroke="#c9bb95" stroke-width="0.9"/>
<path d="M910.17,709.20 L915.65,708.20" stroke="#c9bb95" stroke-width="0.9"/>
<path d="M910.17,712.10 L915.65,711.10" stroke="#c9bb95" stroke-width="0.9"/>
<path d="M910.17,715.00 L915.65,714.00" stroke="#c9bb95" stroke-width="0.9"/>
<path d="M910.17,717.90 L915.65,716.90" stroke="#c9bb95" stroke-width="0.9"/>
<path d="M910.17,720.80 L915.65,719.80" stroke="#c9bb95" stroke-width="0.9"/>
<path d="M910.17,723.70 L915.65,722.70" stroke="#c9bb95" stroke-width="0.9"/>
<path d="M910.17,726.60 L915.65,725.60" stroke="#c9bb95" stroke-width="0.9"/>
<path d="M910.17,729.50 L915.65,728.50" stroke="#c9bb95" stroke-width="0.9"/>
<path d="M910.17,732.40 L915.65,731.40" stroke="#c9bb95" stroke-width="0.9"/>
<path d="M910.17,735.30 L915.65,734.30" stroke="#c9bb95" stroke-width="0.9"/>
<path d="M910.17,738.20 L915.65,737.20" stroke="#c9bb95" stroke-width="0.9"/>
<path d="M910.17,741.10 L915.65,740.10" stroke="#c9bb95" stroke-width="0.9"/>
<path d="M910.17,744.00 L915.65,743.00" stroke="#c9bb95" stroke-width="0.9"/>
<path d="M910.17,746.90 L915.65,745.90" stroke="#c9bb95" stroke-width="0.9"/>
<path d="M910.17,749.80 L915.65,748.80" stroke="#c9bb95" stroke-width="0.9"/>
<path d="M910.17,752.70 L915.65,751.70" stroke="#c9bb95" stroke-width="0.9"/>
<path d="M907.70,695.23 Q909.37,696.23 909.37,705.70 V756.40 M918.90,695.23 Q916.25,696.23 916.25,705.70 V756.40" fill="none" stroke="#000" stroke-width="1.1"/>
<path d="M906.90,688.30 H919.70 V696.23 Q920.00,702.20 921.70,703.50 Q922.20,704.20 922.20,706.70 V756.40 H903.60 V706.70 Q903.60,704.20 904.10,703.50 Q906.60,702.20 906.90,696.23 Z" fill="none" stroke="#000" stroke-width="1.0"/>
<line x1="904.20" y1="705.20" x2="904.20" y2="756.40" stroke="#000" stroke-width="1.8" />
<line x1="921.60" y1="705.20" x2="921.60" y2="756.40" stroke="#000" stroke-width="1.8" />
<line x1="903.60" y1="756.40" x2="922.20" y2="756.40" stroke="#000" stroke-width="1.4" />
<line x1="906.90" y1="688.30" x2="919.70" y2="688.30" stroke="#000" stroke-width="1.4" />
<path d="M76.20,1013.20 H92.80 V1020.30 H103.60 V1013.20 H120.20 Q121.80,1013.20 122.00,1014.80 L123.05,1046.90 H73.35 L74.40,1014.80 Q74.60,1013.20 76.20,1013.20 Z" fill="url(#met)" stroke="#000" stroke-width="1.15" />
<path d="M65.40,1046.90 H131.00 V1073.10 Q131.00,1074.60 129.50,1074.60 H66.90 Q65.40,1074.60 65.40,1073.10 Z" fill="url(#met)" stroke="#000" stroke-width="1.15" />
<line x1="66.20" y1="1062.97" x2="130.20" y2="1062.97" stroke="#000" stroke-width="1.0" />
<line x1="67.40" y1="1066.01" x2="129.00" y2="1066.01" stroke="#000" stroke-width="0.85" />
<line x1="66.20" y1="1068.78" x2="130.20" y2="1068.78" stroke="#000" stroke-width="1.4" />
<path d="M64.60,1063.67 L67.20,1066.01 L64.60,1067.98 Z" fill="#fff"/>
<path d="M131.80,1063.67 L129.20,1066.01 L131.80,1067.98 Z" fill="#fff"/>
<path d="M130.40,1048.56 H128.05 V1057.98 H130.40" fill="none" stroke="#000" stroke-width="0.9" stroke-dasharray="1.6 1"/>
<path d="M72.29,1074.60 V1052.44 Q77.21,1054.66 77.21,1064.07 V1074.60" fill="url(#metd)" stroke="#000" stroke-width="1.1" />
<path d="M91.31,1074.60 V1058.50 A6.89,6.89 0 0 1 105.09,1058.50 V1074.60" fill="url(#metl)" stroke="#000" stroke-width="1.2" />
<line x1="81.21" y1="1014.70" x2="81.21" y2="1028.37" stroke="#222" stroke-width="0.9" stroke-dasharray="2.2 1.4"/>
<line x1="115.19" y1="1014.70" x2="115.19" y2="1028.37" stroke="#222" stroke-width="0.9" stroke-dasharray="2.2 1.4"/>
<line x1="79.21" y1="1028.37" x2="117.19" y2="1028.37" stroke="#222" stroke-width="0.9" stroke-dasharray="2.2 1.4"/>
<path d="M78.38,1049.67 V1034.09 Q78.38,1030.05 82.38,1030.05 H114.02 Q118.02,1030.05 118.02,1034.09 V1049.67" fill="none" stroke="#222" stroke-width="0.9" stroke-dasharray="2.2 1.4"/>
<path d="M81.21,1046.90 V1059.37 H115.19 V1046.90" fill="none" stroke="#222" stroke-width="0.9" stroke-dasharray="2.2 1.4"/>
<circle cx="98.20" cy="1036.12" r="4.01" fill="none" stroke="#222" stroke-width="0.9" stroke-dasharray="1.8 1.2"/>
<path d="M72.4,1074.6 H123.8 V1093 Q123.8,1095.1 121.8,1095.1 H74.4 Q72.4,1095.1 72.4,1093 Z" fill="url(#met)" stroke="#000" stroke-width="1.15" />
<path d="M77.2,1095.1 H119.8 V1125.7 L116,1151.7 H80.5 L77.2,1125.7 Z" fill="url(#met)" stroke="#000" stroke-width="1.15" />
<line x1="77.20" y1="1125.70" x2="119.80" y2="1125.70" stroke="#000" stroke-width="1.1" />
<path d="M92,1082 V1110 H104 V1082 M89.5,1101 V1151 M107,1101 V1151 M86,1114 V1146 H89 M110,1114 V1146 H107" fill="none" stroke="#222" stroke-width="0.9" stroke-dasharray="2 1.3"/>
<line x1="98.50" y1="1017.00" x2="98.50" y2="1153.00" stroke="#000" stroke-width="1.0" stroke-dasharray="11 1.5 1.5 1.5"/>
<line x1="97.50" y1="1165.00" x2="97.50" y2="1206.00" stroke="#000" stroke-width="1.1" />
<line x1="68.40" y1="1206.20" x2="124.60" y2="1206.20" stroke="#000" stroke-width="1.15" />
<line x1="68.50" y1="1206.00" x2="68.50" y2="1343.50" stroke="#000" stroke-width="1.1" />
<line x1="124.50" y1="1206.00" x2="124.50" y2="1343.50" stroke="#000" stroke-width="1.1" />
<path d="M279.40,1013.10 H299.80 V1021.70 H313.00 V1013.10 H333.40 Q335.00,1013.10 335.20,1014.70 L336.65,1049.30 H276.15 L277.60,1014.70 Q277.80,1013.10 279.40,1013.10 Z" fill="url(#met)" stroke="#000" stroke-width="1.15" />
<rect x="276.15" y="1049.30" width="60.50" height="3.30" rx="0" fill="url(#met)" stroke="#000" stroke-width="1.15" />
<path d="M266.20,1052.60 H346.60 V1075.00 Q346.60,1076.50 345.10,1076.50 H267.70 Q266.20,1076.50 266.20,1075.00 Z" fill="url(#met)" stroke="#000" stroke-width="1.15" />
<line x1="267.00" y1="1066.46" x2="345.80" y2="1066.46" stroke="#000" stroke-width="1.0" />
<line x1="268.20" y1="1069.09" x2="344.60" y2="1069.09" stroke="#000" stroke-width="0.85" />
<line x1="267.00" y1="1071.48" x2="345.80" y2="1071.48" stroke="#000" stroke-width="1.4" />
<path d="M265.40,1067.16 L268.00,1069.09 L265.40,1070.68 Z" fill="#fff"/>
<path d="M347.40,1067.16 L344.80,1069.09 L347.40,1070.68 Z" fill="#fff"/>
<path d="M346.00,1054.03 H342.98 V1062.16 H346.00" fill="none" stroke="#000" stroke-width="0.9" stroke-dasharray="1.6 1"/>
<path d="M274.64,1076.50 V1057.38 Q280.67,1059.29 280.67,1067.42 V1076.50" fill="url(#metd)" stroke="#000" stroke-width="1.1" />
<path d="M297.96,1076.50 V1065.11 A8.44,8.44 0 0 1 314.84,1065.11 V1076.50" fill="url(#metl)" stroke="#000" stroke-width="1.2" />
<line x1="285.81" y1="1014.60" x2="285.81" y2="1029.39" stroke="#222" stroke-width="0.9" stroke-dasharray="2.2 1.4"/>
<line x1="326.99" y1="1014.60" x2="326.99" y2="1029.39" stroke="#222" stroke-width="0.9" stroke-dasharray="2.2 1.4"/>
<line x1="283.81" y1="1029.39" x2="328.99" y2="1029.39" stroke="#222" stroke-width="0.9" stroke-dasharray="2.2 1.4"/>
<path d="M282.38,1054.99 V1035.54 Q282.38,1031.20 286.38,1031.20 H326.42 Q330.42,1031.20 330.42,1035.54 V1054.99" fill="none" stroke="#222" stroke-width="0.9" stroke-dasharray="2.2 1.4"/>
<path d="M285.81,1052.60 V1063.36 H326.99 V1052.60" fill="none" stroke="#222" stroke-width="0.9" stroke-dasharray="2.2 1.4"/>
<circle cx="306.40" cy="1039.89" r="4.86" fill="none" stroke="#000" stroke-width="1.1"/>
<line x1="299.59" y1="1039.89" x2="313.21" y2="1039.89" stroke="#000" stroke-width="0.9" />
<path d="M282.3,1076.5 H329.8 V1104.5 H282.3 Z" fill="url(#met)" stroke="#000" stroke-width="1.15" />
<rect x="283.40" y="1104.50" width="46.40" height="4.00" rx="0" fill="url(#met)" stroke="#000" stroke-width="1.15" />
<rect x="283.40" y="1108.50" width="46.40" height="4.30" rx="0" fill="url(#met)" stroke="#000" stroke-width="1.15" />
<path d="M279,1112.8 H333 L334.9,1115 V1134.1 L332,1140.4 H281.4 L277.2,1134.1 V1115 Z" fill="url(#met)" stroke="#000" stroke-width="1.15" />
<line x1="277.20" y1="1116.50" x2="334.90" y2="1116.50" stroke="#000" stroke-width="1.1" />
<line x1="277.20" y1="1134.10" x2="334.90" y2="1134.10" stroke="#000" stroke-width="1.1" />
<rect x="280.50" y="1118.50" width="4.00" height="13.00" rx="1.5" fill="#bbb" stroke="#000" stroke-width="1.3" />
<rect x="328.00" y="1118.50" width="4.00" height="13.00" rx="1.5" fill="#bbb" stroke="#000" stroke-width="1.3" />
<rect x="303.50" y="1118.50" width="6.00" height="13.00" rx="0" fill="url(#metl)" stroke="#000" stroke-width="1.0" />
<path d="M291,1086 H323 V1090 M291,1086 V1090 H322 M301,1078 V1084 M311,1078 V1084 M292,1090 L289,1130 H324 L321,1090" fill="none" stroke="#222" stroke-width="0.9" stroke-dasharray="2 1.3"/>
<line x1="306.50" y1="1010.00" x2="306.50" y2="1139.00" stroke="#000" stroke-width="1.0" stroke-dasharray="11 1.5 1.5 1.5"/>
<line x1="304.50" y1="1148.00" x2="304.50" y2="1341.80" stroke="#000" stroke-width="1.1" />
<line x1="257.50" y1="1330.40" x2="352.50" y2="1330.40" stroke="#000" stroke-width="1.15" />
<line x1="257.50" y1="1330.00" x2="257.50" y2="1343.50" stroke="#000" stroke-width="1.1" />
<line x1="352.50" y1="1330.00" x2="352.50" y2="1343.50" stroke="#000" stroke-width="1.1" />
<path d="M56.70,1353.90 H78.10 Q79.60,1353.90 79.60,1355.40 V1406.50 H55.20 V1355.40 Q55.20,1353.90 56.70,1353.90 Z" fill="#e9e9e9" stroke="#000" stroke-width="1.0" />
<line x1="55.70" y1="1404.60" x2="79.10" y2="1404.60" stroke="#000" stroke-width="0.9" />
<line x1="55.20" y1="1406.50" x2="79.60" y2="1406.50" stroke="#000" stroke-width="1.1" />
<line x1="55.50" y1="1356.50" x2="79.30" y2="1356.50" stroke="#000" stroke-width="0.9" />
<line x1="55.50" y1="1358.50" x2="79.30" y2="1358.50" stroke="#000" stroke-width="0.9" />
<line x1="55.50" y1="1404.50" x2="79.30" y2="1404.50" stroke="#000" stroke-width="0.9" />
<path d="M51.5,1406.5 H83.4 Q84.7,1406.5 84.7,1408 V1412 Q84.7,1414.8 82,1414.8 H53 Q50.2,1414.8 50.2,1412 V1408 Q50.2,1406.5 51.5,1406.5 Z" fill="#e9e9e9" stroke="#000" stroke-width="1.2" />
<line x1="51.00" y1="1409.00" x2="84.00" y2="1409.00" stroke="#000" stroke-width="0.8" />
<line x1="51.00" y1="1408.20" x2="84.00" y2="1408.20" stroke="#000" stroke-width="0.6" />
<path d="M53,1414.8 Q56.5,1418 56.9,1424.5 V1470 Q56,1480 57.5,1490 L56.5,1506 L67.3,1510.8 L78,1507 L77.7,1496 Q78.5,1485 77.7,1470 V1424.5 Q78.5,1418 82,1414.8 Z" fill="#e9e9e9" stroke="#000" stroke-width="1.2" />
<line x1="56.90" y1="1424.50" x2="77.70" y2="1424.50" stroke="#000" stroke-width="1.0" />
<line x1="54.50" y1="1417.40" x2="80.50" y2="1417.40" stroke="#000" stroke-width="0.9" />
<path d="M57.6,1481.7 C59,1460 61,1440 64,1431 Q67,1426 72,1428.5 Q76,1431 75.4,1436 C72,1450 66,1468 59.5,1485" fill="none" stroke="#000" stroke-width="0.9"/>
<path d="M59,1476 C61,1458 63,1442 65.5,1433 Q68,1428.5 71.5,1430.5 Q74.5,1433 73.5,1437 C70,1452 65,1468 60,1482" fill="none" stroke="#000" stroke-width="0.7"/>
<path d="M77.7,1470.5 C76,1480 74,1490 71,1497" fill="none" stroke="#000" stroke-width="1.0"/>
<path d="M72.5,1495.8 L77.7,1499 L78,1507 L67.3,1510.8 L58,1507 L63.6,1505.4 L69.5,1501.7 Z" fill="#f7d990" stroke="#000" stroke-width="1.0" />
<line x1="69.50" y1="1501.70" x2="70.00" y2="1509.00" stroke="#000" stroke-width="0.9" />
<circle cx="61.7" cy="1501.3" r="1.8" fill="none" stroke="#000" stroke-width="0.8"/>
<path d="M120.30,1353.90 H132.20 Q133.70,1353.90 133.70,1355.40 V1420.60 H118.80 V1355.40 Q118.80,1353.90 120.30,1353.90 Z" fill="#e9e9e9" stroke="#000" stroke-width="1.0" />
<line x1="119.30" y1="1355.80" x2="133.20" y2="1355.80" stroke="#000" stroke-width="0.9" />
<line x1="119.30" y1="1418.70" x2="133.20" y2="1418.70" stroke="#000" stroke-width="0.9" />
<line x1="118.80" y1="1420.60" x2="133.70" y2="1420.60" stroke="#000" stroke-width="1.1" />
<clipPath id="fc3"><path d="M119.47,1420.60 H132.63 V1441.85 Q133.72,1444.88 132.49,1450.95 V1470.37 Q133.59,1475.23 132.49,1480.09 L126.05,1481.30 L119.47,1479.48 Q118.52,1475.23 119.61,1469.16 V1450.95 Q118.38,1446.09 119.47,1438.81 Z"/></clipPath>
<path d="M119.47,1420.60 H132.63 V1441.85 Q133.72,1444.88 132.49,1450.95 V1470.37 Q133.59,1475.23 132.49,1480.09 L126.05,1481.30 L119.47,1479.48 Q118.52,1475.23 119.61,1469.16 V1450.95 Q118.38,1446.09 119.47,1438.81 Z" fill="#f7d990"/>
<g clip-path="url(#fc3)" fill="none" stroke="#000">
<path d="M120.30,1432.74 Q121.26,1422.42 124.00,1424.85 Q125.37,1427.88 126.05,1425.46 Q128.79,1420.60 130.84,1426.67" stroke-width="1.0"/>
<path d="M132.90,1427.88 C128.79,1438.81 123.31,1446.09 119.20,1458.23" stroke-width="1.2"/>
<path d="M126.05,1425.46 C124.00,1432.74 121.94,1437.60 119.20,1441.85" stroke-width="0.9"/>
<path d="M132.90,1446.09 C128.79,1455.81 123.31,1464.30 119.20,1475.23" stroke-width="1.2"/>
<path d="M132.90,1463.09 C129.47,1470.37 126.05,1475.23 121.94,1481.30" stroke-width="1.0"/>
<path d="M126.73,1475.23 L125.37,1481.30 M123.31,1477.05 L124.95,1481.30" stroke-width="0.8"/>
</g>
<path d="M119.47,1420.60 H132.63 V1441.85 Q133.72,1444.88 132.49,1450.95 V1470.37 Q133.59,1475.23 132.49,1480.09 L126.05,1481.30 L119.47,1479.48 Q118.52,1475.23 119.61,1469.16 V1450.95 Q118.38,1446.09 119.47,1438.81 Z" fill="none" stroke="#000" stroke-width="1.2"/>
<line x1="119.20" y1="1420.60" x2="132.90" y2="1420.60" stroke="#000" stroke-width="1.2" />
<path d="M251.10,1354.50 H261.90 Q263.40,1354.50 263.40,1356.00 V1416.60 H249.60 V1356.00 Q249.60,1354.50 251.10,1354.50 Z" fill="#e9e9e9" stroke="#000" stroke-width="1.0" />
<line x1="250.10" y1="1356.40" x2="262.90" y2="1356.40" stroke="#000" stroke-width="0.9" />
<line x1="250.10" y1="1414.70" x2="262.90" y2="1414.70" stroke="#000" stroke-width="0.9" />
<line x1="249.60" y1="1416.60" x2="263.40" y2="1416.60" stroke="#000" stroke-width="1.1" />
<clipPath id="fc4"><path d="M249.88,1416.60 H263.12 V1438.34 Q264.23,1441.44 262.99,1447.65 V1467.52 Q264.09,1472.49 262.99,1477.46 L256.50,1478.70 L249.88,1476.84 Q248.91,1472.49 250.01,1466.28 V1447.65 Q248.77,1442.68 249.88,1435.23 Z"/></clipPath>
<path d="M249.88,1416.60 H263.12 V1438.34 Q264.23,1441.44 262.99,1447.65 V1467.52 Q264.09,1472.49 262.99,1477.46 L256.50,1478.70 L249.88,1476.84 Q248.91,1472.49 250.01,1466.28 V1447.65 Q248.77,1442.68 249.88,1435.23 Z" fill="#e9e9e9"/>
<g clip-path="url(#fc4)" fill="none" stroke="#000">
<path d="M249.60,1421.57 Q253.05,1424.05 253.05,1435.23" stroke-width="1.0"/>
<path d="M250.29,1444.55 C253.74,1435.23 255.81,1419.70 258.16,1420.95 Q260.64,1422.81 261.33,1432.12" stroke-width="1.1"/>
<path d="M263.40,1425.91 C259.95,1447.65 253.74,1463.17 249.60,1478.70" stroke-width="2.4"/>
<path d="M263.40,1425.91 C259.95,1447.65 253.74,1463.17 249.60,1478.70" stroke="#ddd" stroke-width="0.7" stroke-dasharray="1.4 1.2"/>
<path d="M261.33,1438.34 C260.64,1453.86 259.26,1469.38 257.19,1478.70" stroke-width="1.0"/>
<path d="M262.71,1444.55 C263.40,1460.07 262.71,1472.49 260.64,1478.70" stroke-width="1.2"/>
<path d="M250.29,1477.46 Q254.43,1471.25 257.19,1472.49" stroke-width="0.9"/>
</g>
<path d="M249.88,1416.60 H263.12 V1438.34 Q264.23,1441.44 262.99,1447.65 V1467.52 Q264.09,1472.49 262.99,1477.46 L256.50,1478.70 L249.88,1476.84 Q248.91,1472.49 250.01,1466.28 V1447.65 Q248.77,1442.68 249.88,1435.23 Z" fill="none" stroke="#000" stroke-width="1.2"/>
<line x1="249.60" y1="1416.60" x2="263.40" y2="1416.60" stroke="#000" stroke-width="1.2" />
<path d="M296.50,1354.50 H308.00 Q309.50,1354.50 309.50,1356.00 V1420.60 H295.00 V1356.00 Q295.00,1354.50 296.50,1354.50 Z" fill="#e9e9e9" stroke="#000" stroke-width="1.0" />
<line x1="295.50" y1="1356.40" x2="309.00" y2="1356.40" stroke="#000" stroke-width="0.9" />
<line x1="295.50" y1="1418.70" x2="309.00" y2="1418.70" stroke="#000" stroke-width="0.9" />
<line x1="295.00" y1="1420.60" x2="309.50" y2="1420.60" stroke="#000" stroke-width="1.1" />
<clipPath id="fc5"><path d="M295.67,1420.60 H308.83 V1441.91 Q309.92,1444.96 308.69,1451.05 V1470.54 Q309.79,1475.41 308.69,1480.28 L302.25,1481.50 L295.67,1479.67 Q294.71,1475.41 295.81,1469.32 V1451.05 Q294.58,1446.18 295.67,1438.87 Z"/></clipPath>
<path d="M295.67,1420.60 H308.83 V1441.91 Q309.92,1444.96 308.69,1451.05 V1470.54 Q309.79,1475.41 308.69,1480.28 L302.25,1481.50 L295.67,1479.67 Q294.71,1475.41 295.81,1469.32 V1451.05 Q294.58,1446.18 295.67,1438.87 Z" fill="#f7d990"/>
<g clip-path="url(#fc5)" fill="none" stroke="#000">
<path d="M296.50,1432.78 Q297.45,1422.43 300.19,1424.86 Q301.56,1427.91 302.25,1425.47 Q304.99,1420.60 307.05,1426.69" stroke-width="1.0"/>
<path d="M309.10,1427.91 C304.99,1438.87 299.51,1446.18 295.40,1458.36" stroke-width="1.2"/>
<path d="M302.25,1425.47 C300.19,1432.78 298.14,1437.65 295.40,1441.91" stroke-width="0.9"/>
<path d="M309.10,1446.18 C304.99,1455.92 299.51,1464.45 295.40,1475.41" stroke-width="1.2"/>
<path d="M309.10,1463.23 C305.68,1470.54 302.25,1475.41 298.14,1481.50" stroke-width="1.0"/>
<path d="M302.94,1475.41 L301.56,1481.50 M299.51,1477.24 L301.15,1481.50" stroke-width="0.8"/>
</g>
<path d="M295.67,1420.60 H308.83 V1441.91 Q309.92,1444.96 308.69,1451.05 V1470.54 Q309.79,1475.41 308.69,1480.28 L302.25,1481.50 L295.67,1479.67 Q294.71,1475.41 295.81,1469.32 V1451.05 Q294.58,1446.18 295.67,1438.87 Z" fill="none" stroke="#000" stroke-width="1.2"/>
<line x1="295.40" y1="1420.60" x2="309.10" y2="1420.60" stroke="#000" stroke-width="1.2" />
<path d="M339.00,1354.50 H363.40 Q364.90,1354.50 364.90,1356.00 V1455.70 H337.50 V1356.00 Q337.50,1354.50 339.00,1354.50 Z" fill="#e9e9e9" stroke="#000" stroke-width="1.0" />
<line x1="338.00" y1="1355.70" x2="364.40" y2="1355.70" stroke="#000" stroke-width="1.2" />
<path d="M338.10,1455.70 H364.30 V1495.40 H338.10 Z" fill="#e9e9e9" stroke="#000" stroke-width="1.0" />
<line x1="337.50" y1="1455.70" x2="364.90" y2="1455.70" stroke="#000" stroke-width="1.3" />
<line x1="348.19" y1="1356.50" x2="348.19" y2="1472.77" stroke="#555" stroke-width="0.8" stroke-dasharray="2.2 1.4"/>
<line x1="352.57" y1="1356.50" x2="352.57" y2="1472.77" stroke="#666" stroke-width="0.8" stroke-dasharray="2.2 1.4"/>
<path d="M348.19,1472.77 L350.38,1477.54 L353.07,1472.77" fill="none" stroke="#333" stroke-width="0.8" stroke-dasharray="1.2 0.8"/>
<path d="M338.87,1474.76 C344.35,1480.31 348.46,1489.45 351.47,1495.40" fill="none" stroke="#000" stroke-width="0.9" stroke-dasharray="1.6 1"/>
<path d="M364.30,1463.64 C358.05,1471.58 352.57,1479.52 351.20,1481.90 L351.47,1495.40" fill="none" stroke="#000" stroke-width="1.1"/>
<line x1="338.50" y1="1478.30" x2="347.91" y2="1478.00" stroke="#444" stroke-width="0.8" stroke-dasharray="2.2 1.4"/>
<line x1="347.91" y1="1478.00" x2="347.91" y2="1494.40" stroke="#777" stroke-width="0.8" stroke-dasharray="2.2 1.4"/>
<line x1="338.10" y1="1478.50" x2="338.10" y2="1495.40" stroke="#000" stroke-width="2.2" />
<line x1="337.50" y1="1495.40" x2="364.90" y2="1495.40" stroke="#000" stroke-width="1.4" />
<path d="M353.70,1477.40 H357.48 L358.56,1478.40 H364.50 V1495.00 H353.70 Z" fill="#f7d990" stroke="#000" stroke-width="1.2" />
<circle cx="359.60" cy="1486.50" r="2.16" fill="#222" stroke="#000" stroke-width="0.6"/>
<path d="M358.30,1485.20 L360.90,1487.80 M360.90,1485.20 L358.30,1487.80" stroke="#bbb" stroke-width="0.6"/>
<path d="M578.8,1148.4 H597.1 Q598.6,1148.4 598.6,1150 V1158.7 L595.7,1162 V1174 L598.6,1177.1 V1228.6 Q598.6,1230.1 597.1,1230.1 H578.8 Q577.3,1230.1 577.3,1228.6 V1150 Q577.3,1148.4 578.8,1148.4 Z" fill="url(#metk)" stroke="#000" stroke-width="1.15" />
<line x1="577.80" y1="1150.20" x2="598.10" y2="1150.20" stroke="#000" stroke-width="0.9" />
<line x1="577.80" y1="1229.00" x2="598.10" y2="1229.00" stroke="#000" stroke-width="1.2" />
<path d="M582.4,1151 V1183 M593.1,1151 V1183 M581.2,1192 V1228 M594.6,1192 V1228 M580.2,1191.7 V1185.5 Q587.5,1183 595.4,1185.5 V1191.7 H580.2" fill="none" stroke="#333" stroke-width="0.85" stroke-dasharray="1.8 1.2"/>
<line x1="593.10" y1="1211.40" x2="600.00" y2="1211.40" stroke="#000" stroke-width="1.0" />
<line x1="587.50" y1="1145.00" x2="587.50" y2="1234.00" stroke="#000" stroke-width="1.0" stroke-dasharray="11 1.5 1.5 1.5"/>
<line x1="587.50" y1="1242.00" x2="587.50" y2="1321.00" stroke="#000" stroke-width="1.1" />
<path d="M580.90,1331.00 H593.10 Q594.60,1331.00 594.60,1332.50 V1379.00 H579.40 V1367.00 L581.00,1366.00 V1351.00 L579.40,1350.00 V1332.50 Q579.40,1331.00 580.90,1331.00 Z" fill="#e9e9e9" stroke="#000" stroke-width="1.0" />
<line x1="579.90" y1="1332.90" x2="594.10" y2="1332.90" stroke="#000" stroke-width="0.9" />
<line x1="579.90" y1="1377.10" x2="594.10" y2="1377.10" stroke="#000" stroke-width="0.9" />
<line x1="579.40" y1="1379.00" x2="594.60" y2="1379.00" stroke="#000" stroke-width="1.1" />
<path d="M579.40,1379.00 H594.60 V1430.00 H579.40 Z" fill="#e9e9e9" stroke="#000" stroke-width="1.1" />
<line x1="579.40" y1="1379.00" x2="594.60" y2="1379.00" stroke="#000" stroke-width="1.2" />
<line x1="594.60" y1="1379.00" x2="594.60" y2="1397.36" stroke="#000" stroke-width="1.3" />
<path d="M581.68,1415.72 C578.64,1401.95 582.44,1385.12 585.02,1385.12 C587.76,1386.65 590.80,1394.30 590.04,1397.87" fill="none" stroke="#000" stroke-width="0.9"/>
<path d="M588.82,1396.34 H594.30 L588.82,1420.82 L587.00,1428.47 L587.00,1430.00 H579.40 L580.62,1417.25 Z" fill="#000"/>
<rect x="588.65" y="1398.55" width="4.56" height="1.1" rx="0.5" fill="#fff"/>
<rect x="587.99" y="1401.02" width="4.56" height="1.1" rx="0.5" fill="#fff"/>
<rect x="587.33" y="1403.48" width="4.56" height="1.1" rx="0.5" fill="#fff"/>
<rect x="586.67" y="1405.95" width="4.56" height="1.1" rx="0.5" fill="#fff"/>
<rect x="586.01" y="1408.41" width="4.56" height="1.1" rx="0.5" fill="#fff"/>
<rect x="585.35" y="1410.88" width="4.56" height="1.1" rx="0.5" fill="#fff"/>
<rect x="584.69" y="1413.34" width="4.56" height="1.1" rx="0.5" fill="#fff"/>
<rect x="584.04" y="1415.81" width="4.56" height="1.1" rx="0.5" fill="#fff"/>
<rect x="583.38" y="1418.27" width="4.56" height="1.1" rx="0.5" fill="#fff"/>
<rect x="582.72" y="1420.74" width="4.56" height="1.1" rx="0.5" fill="#fff"/>
<rect x="582.06" y="1423.20" width="4.56" height="1.1" rx="0.5" fill="#fff"/>
<rect x="581.40" y="1425.67" width="4.56" height="1.1" rx="0.5" fill="#fff"/>
<path d="M593.84,1399.40 C590.04,1404.50 591.56,1419.80 587.76,1428.98" fill="none" stroke="#000" stroke-width="1.1"/>
<path d="M594.60,1401.95 C595.36,1414.70 593.84,1424.90 590.80,1428.98" fill="none" stroke="#000" stroke-width="1.4" stroke-dasharray="2 1"/>
<line x1="579.40" y1="1430.00" x2="594.60" y2="1430.00" stroke="#000" stroke-width="1.1" />
<path d="M706.2,1148.4 H720.8 Q721.8,1148.4 721.8,1149.6 V1216.9 H705.2 V1149.6 Q705.2,1148.4 706.2,1148.4 Z" fill="url(#metk)" stroke="#000" stroke-width="1.15" />
<line x1="705.60" y1="1149.30" x2="721.40" y2="1149.30" stroke="#000" stroke-width="1.8" />
<path d="M709.4,1151 V1173 M717.5,1151 V1173 M709.4,1208.5 V1216 M717.5,1208.5 V1216" fill="none" stroke="#444" stroke-width="0.8" stroke-dasharray="1.5 1"/>
<path d="M709.4,1173 q1.2,1.1 0,2.2 q-1.2,1.1 0,2.2 q1.2,1.1 0,2.2 q-1.2,1.1 0,2.2 q1.2,1.1 0,2.2 q-1.2,1.1 0,2.2 q1.2,1.1 0,2.2 q-1.2,1.1 0,2.2 q1.2,1.1 0,2.2 q-1.2,1.1 0,2.2 q1.2,1.1 0,2.2 q-1.2,1.1 0,2.2 q1.2,1.1 0,2.2 q-1.2,1.1 0,2.2 q1.2,1.1 0,2.2 q-1.2,1.1 0,2.2 M717.5,1173 q1.2,1.1 0,2.2 q-1.2,1.1 0,2.2 q1.2,1.1 0,2.2 q-1.2,1.1 0,2.2 q1.2,1.1 0,2.2 q-1.2,1.1 0,2.2 q1.2,1.1 0,2.2 q-1.2,1.1 0,2.2 q1.2,1.1 0,2.2 q-1.2,1.1 0,2.2 q1.2,1.1 0,2.2 q-1.2,1.1 0,2.2 q1.2,1.1 0,2.2 q-1.2,1.1 0,2.2 q1.2,1.1 0,2.2 q-1.2,1.1 0,2.2" fill="none" stroke="#222" stroke-width="0.8"/>
<path d="M705.2,1216.9 H721.8 L722.6,1218.5 V1229.2 Q722.6,1229.8 722,1229.8 H704.8 Q704.2,1229.8 704.2,1229.2 V1218.5 Z" fill="url(#metl)" stroke="#000" stroke-width="1.15" />
<line x1="704.60" y1="1219.00" x2="722.20" y2="1219.00" stroke="#000" stroke-width="0.8" />
<line x1="704.60" y1="1221.20" x2="722.20" y2="1221.20" stroke="#000" stroke-width="1.0" />
<rect x="705.5" y="1224" width="2.9" height="5.3" fill="#ddd" stroke="#000" stroke-width="0.8"/>
<rect x="709.7" y="1223.6" width="8.7" height="5.8" rx="1.5" fill="url(#met)" stroke="#000" stroke-width="0.8"/>
<rect x="719.4" y="1224" width="2.9" height="5.3" fill="#ddd" stroke="#000" stroke-width="0.8"/>
<line x1="713.50" y1="1146.00" x2="713.50" y2="1232.00" stroke="#000" stroke-width="1.0" stroke-dasharray="11 1.5 1.5 1.5"/>
<line x1="713.50" y1="1236.40" x2="713.50" y2="1306.50" stroke="#000" stroke-width="1.1" />
<line x1="690.20" y1="1306.50" x2="736.20" y2="1306.50" stroke="#000" stroke-width="1.15" />
<line x1="690.50" y1="1306.50" x2="690.50" y2="1320.80" stroke="#000" stroke-width="1.1" />
<line x1="736.50" y1="1306.50" x2="736.50" y2="1320.80" stroke="#000" stroke-width="1.1" />
<path d="M685.10,1331.30 H695.90 Q697.40,1331.30 697.40,1332.80 V1393.20 H683.60 V1332.80 Q683.60,1331.30 685.10,1331.30 Z" fill="#e9e9e9" stroke="#000" stroke-width="1.0" />
<line x1="684.10" y1="1333.20" x2="696.90" y2="1333.20" stroke="#000" stroke-width="0.9" />
<line x1="684.10" y1="1391.30" x2="696.90" y2="1391.30" stroke="#000" stroke-width="0.9" />
<line x1="683.60" y1="1393.20" x2="697.40" y2="1393.20" stroke="#000" stroke-width="1.1" />
<clipPath id="fc6"><path d="M683.88,1393.20 H697.12 V1415.08 Q698.23,1418.20 696.99,1424.45 V1444.45 Q698.09,1449.45 696.99,1454.45 L690.50,1455.70 L683.88,1453.83 Q682.91,1449.45 684.01,1443.20 V1424.45 Q682.77,1419.45 683.88,1411.95 Z"/></clipPath>
<path d="M683.88,1393.20 H697.12 V1415.08 Q698.23,1418.20 696.99,1424.45 V1444.45 Q698.09,1449.45 696.99,1454.45 L690.50,1455.70 L683.88,1453.83 Q682.91,1449.45 684.01,1443.20 V1424.45 Q682.77,1419.45 683.88,1411.95 Z" fill="#e9e9e9"/>
<g clip-path="url(#fc6)" fill="none" stroke="#000">
<path d="M683.60,1398.20 Q687.05,1400.70 687.05,1411.95" stroke-width="1.0"/>
<path d="M684.29,1421.33 C687.74,1411.95 689.81,1396.33 692.16,1397.58 Q694.64,1399.45 695.33,1408.83" stroke-width="1.1"/>
<path d="M697.40,1402.58 C693.95,1424.45 687.74,1440.08 683.60,1455.70" stroke-width="2.4"/>
<path d="M697.40,1402.58 C693.95,1424.45 687.74,1440.08 683.60,1455.70" stroke="#ddd" stroke-width="0.7" stroke-dasharray="1.4 1.2"/>
<path d="M695.33,1415.08 C694.64,1430.70 693.26,1446.33 691.19,1455.70" stroke-width="1.0"/>
<path d="M696.71,1421.33 C697.40,1436.95 696.71,1449.45 694.64,1455.70" stroke-width="1.2"/>
<path d="M684.29,1454.45 Q688.43,1448.20 691.19,1449.45" stroke-width="0.9"/>
</g>
<path d="M683.88,1393.20 H697.12 V1415.08 Q698.23,1418.20 696.99,1424.45 V1444.45 Q698.09,1449.45 696.99,1454.45 L690.50,1455.70 L683.88,1453.83 Q682.91,1449.45 684.01,1443.20 V1424.45 Q682.77,1419.45 683.88,1411.95 Z" fill="none" stroke="#000" stroke-width="1.2"/>
<line x1="683.60" y1="1393.20" x2="697.40" y2="1393.20" stroke="#000" stroke-width="1.2" />
<path d="M730.30,1331.30 H742.00 Q743.50,1331.30 743.50,1332.80 V1397.50 H728.80 V1332.80 Q728.80,1331.30 730.30,1331.30 Z" fill="#e9e9e9" stroke="#000" stroke-width="1.0" />
<line x1="729.30" y1="1333.20" x2="743.00" y2="1333.20" stroke="#000" stroke-width="0.9" />
<line x1="729.30" y1="1395.60" x2="743.00" y2="1395.60" stroke="#000" stroke-width="0.9" />
<line x1="728.80" y1="1397.50" x2="743.50" y2="1397.50" stroke="#000" stroke-width="1.1" />
<clipPath id="fc7"><path d="M729.48,1397.50 H742.82 V1419.03 Q743.93,1422.10 742.68,1428.25 V1447.93 Q743.80,1452.85 742.68,1457.77 L736.15,1459.00 L729.48,1457.15 Q728.50,1452.85 729.62,1446.70 V1428.25 Q728.37,1423.33 729.48,1415.95 Z"/></clipPath>
<path d="M729.48,1397.50 H742.82 V1419.03 Q743.93,1422.10 742.68,1428.25 V1447.93 Q743.80,1452.85 742.68,1457.77 L736.15,1459.00 L729.48,1457.15 Q728.50,1452.85 729.62,1446.70 V1428.25 Q728.37,1423.33 729.48,1415.95 Z" fill="#f7d990"/>
<g clip-path="url(#fc7)" fill="none" stroke="#000">
<path d="M730.31,1409.80 Q731.29,1399.35 734.07,1401.81 Q735.46,1404.88 736.15,1402.42 Q738.93,1397.50 741.01,1403.65" stroke-width="1.0"/>
<path d="M743.10,1404.88 C738.93,1415.95 733.37,1423.33 729.20,1435.63" stroke-width="1.2"/>
<path d="M736.15,1402.42 C734.07,1409.80 731.98,1414.72 729.20,1419.03" stroke-width="0.9"/>
<path d="M743.10,1423.33 C738.93,1433.17 733.37,1441.78 729.20,1452.85" stroke-width="1.2"/>
<path d="M743.10,1440.55 C739.62,1447.93 736.15,1452.85 731.98,1459.00" stroke-width="1.0"/>
<path d="M736.85,1452.85 L735.46,1459.00 M733.37,1454.69 L735.04,1459.00" stroke-width="0.8"/>
</g>
<path d="M729.48,1397.50 H742.82 V1419.03 Q743.93,1422.10 742.68,1428.25 V1447.93 Q743.80,1452.85 742.68,1457.77 L736.15,1459.00 L729.48,1457.15 Q728.50,1452.85 729.62,1446.70 V1428.25 Q728.37,1423.33 729.48,1415.95 Z" fill="none" stroke="#000" stroke-width="1.2"/>
<line x1="729.20" y1="1397.50" x2="743.10" y2="1397.50" stroke="#000" stroke-width="1.2" />
<path d="M851.2,1148.7 H874.4 V1195.4 H851.2 Z" fill="url(#metk)" stroke="#000" stroke-width="1.15" />
<path d="M857.3,1148.8 V1159.5 Q863.4,1161.5 869.4,1159.5 V1148.8 M857.3,1168.5 Q863.4,1166.5 869.4,1168.5 V1180 Q863.4,1182 857.3,1180 Z" fill="none" stroke="#000" stroke-width="1.0"/>
<line x1="851.50" y1="1194.30" x2="874.00" y2="1194.30" stroke="#000" stroke-width="2.0" />
<path d="M848,1195.4 H877.6 Q879.3,1195.4 879.3,1197 V1222.5 Q879.3,1224.4 877.6,1224.4 H848 Q846.3,1224.4 846.3,1222.5 V1197 Q846.3,1195.4 848,1195.4 Z" fill="url(#met)" stroke="#000" stroke-width="1.15" />
<line x1="846.30" y1="1198.00" x2="879.30" y2="1198.00" stroke="#000" stroke-width="0.9" />
<line x1="846.30" y1="1201.70" x2="879.30" y2="1201.70" stroke="#000" stroke-width="1.5" />
<line x1="846.30" y1="1222.50" x2="879.30" y2="1222.50" stroke="#000" stroke-width="1.8" />
<path d="M852.9,1224.4 H873.8 V1228 Q871.5,1231 873.8,1234 V1237.5 H852.9 V1234 Q855.2,1231 852.9,1228 Z" fill="url(#met)" stroke="#000" stroke-width="1.15" />
<path d="M848.3,1237.5 H877.3 Q878.8,1237.5 878.8,1239 V1245.2 H846.8 V1239 Q846.8,1237.5 848.3,1237.5 Z" fill="url(#met)" stroke="#000" stroke-width="1.15" />
<path d="M848.5,1245.2 H877.5 V1256 L874.5,1260.6 H851.5 L848.5,1256 Z" fill="url(#met)" stroke="#000" stroke-width="1.15" />
<line x1="863.30" y1="1245.50" x2="863.30" y2="1259.00" stroke="#000" stroke-width="1.6" />
<path d="M849,1248 Q856,1245.5 863,1248 M864,1248 Q871,1245.5 877,1248" fill="none" stroke="#222" stroke-width="0.8"/>
<line x1="863.50" y1="1146.00" x2="863.50" y2="1266.00" stroke="#000" stroke-width="1.0" stroke-dasharray="11 1.5 1.5 1.5"/>
<line x1="863.50" y1="1272.70" x2="863.50" y2="1321.00" stroke="#000" stroke-width="1.1" />
<path d="M857.70,1331.50 H867.90 Q869.40,1331.50 869.40,1333.00 V1391.20 H856.20 V1333.00 Q856.20,1331.50 857.70,1331.50 Z" fill="#e9e9e9" stroke="#000" stroke-width="1.0" />
<line x1="856.70" y1="1389.30" x2="868.90" y2="1389.30" stroke="#000" stroke-width="0.9" />
<line x1="856.20" y1="1391.20" x2="869.40" y2="1391.20" stroke="#000" stroke-width="1.1" />
<rect x="856.80" y="1332.10" width="5.60" height="9.30" fill="#d4d4d4"/>
<line x1="856.20" y1="1341.80" x2="869.40" y2="1341.80" stroke="#000" stroke-width="1.2" />
<line x1="862.80" y1="1331.50" x2="862.80" y2="1341.80" stroke="#000" stroke-width="1.4" />
<path d="M856.20,1391.20 H869.40 V1398.63 Q869.70,1404.00 872.20,1405.30 Q872.70,1406.00 872.70,1408.50 V1459.20 H852.90 V1408.50 Q852.90,1406.00 853.40,1405.30 Q855.90,1404.00 856.20,1398.63 Z" fill="url(#tapg)"/>
<path d="M856.20,1391.20 H869.40 V1397.63 H856.20 Z" fill="url(#gold)"/>
<rect x="859.04" y="1405.50" width="7.33" height="53.70" fill="#14110a"/>
<path d="M859.84,1408.10 L865.76,1407.10" stroke="#c9bb95" stroke-width="0.9"/>
<path d="M859.84,1411.00 L865.76,1410.00" stroke="#c9bb95" stroke-width="0.9"/>
<path d="M859.84,1413.90 L865.76,1412.90" stroke="#c9bb95" stroke-width="0.9"/>
<path d="M859.84,1416.80 L865.76,1415.80" stroke="#c9bb95" stroke-width="0.9"/>
<path d="M859.84,1419.70 L865.76,1418.70" stroke="#c9bb95" stroke-width="0.9"/>
<path d="M859.84,1422.60 L865.76,1421.60" stroke="#c9bb95" stroke-width="0.9"/>
<path d="M859.84,1425.50 L865.76,1424.50" stroke="#c9bb95" stroke-width="0.9"/>
<path d="M859.84,1428.40 L865.76,1427.40" stroke="#c9bb95" stroke-width="0.9"/>
<path d="M859.84,1431.30 L865.76,1430.30" stroke="#c9bb95" stroke-width="0.9"/>
<path d="M859.84,1434.20 L865.76,1433.20" stroke="#c9bb95" stroke-width="0.9"/>
<path d="M859.84,1437.10 L865.76,1436.10" stroke="#c9bb95" stroke-width="0.9"/>
<path d="M859.84,1440.00 L865.76,1439.00" stroke="#c9bb95" stroke-width="0.9"/>
<path d="M859.84,1442.90 L865.76,1441.90" stroke="#c9bb95" stroke-width="0.9"/>
<path d="M859.84,1445.80 L865.76,1444.80" stroke="#c9bb95" stroke-width="0.9"/>
<path d="M859.84,1448.70 L865.76,1447.70" stroke="#c9bb95" stroke-width="0.9"/>
<path d="M859.84,1451.60 L865.76,1450.60" stroke="#c9bb95" stroke-width="0.9"/>
<path d="M859.84,1454.50 L865.76,1453.50" stroke="#c9bb95" stroke-width="0.9"/>
<path d="M859.84,1457.40 L865.76,1456.40" stroke="#c9bb95" stroke-width="0.9"/>
<path d="M857.00,1397.63 Q859.04,1398.63 859.04,1407.50 V1459.20 M868.60,1397.63 Q866.36,1398.63 866.36,1407.50 V1459.20" fill="none" stroke="#000" stroke-width="1.1"/>
<path d="M856.20,1391.20 H869.40 V1398.63 Q869.70,1404.00 872.20,1405.30 Q872.70,1406.00 872.70,1408.50 V1459.20 H852.90 V1408.50 Q852.90,1406.00 853.40,1405.30 Q855.90,1404.00 856.20,1398.63 Z" fill="none" stroke="#000" stroke-width="1.0"/>
<line x1="853.50" y1="1407.00" x2="853.50" y2="1459.20" stroke="#000" stroke-width="1.8" />
<line x1="872.10" y1="1407.00" x2="872.10" y2="1459.20" stroke="#000" stroke-width="1.8" />
<line x1="852.90" y1="1459.20" x2="872.70" y2="1459.20" stroke="#000" stroke-width="1.4" />
<line x1="856.20" y1="1391.20" x2="869.40" y2="1391.20" stroke="#000" stroke-width="1.4" /></svg></body></html>
